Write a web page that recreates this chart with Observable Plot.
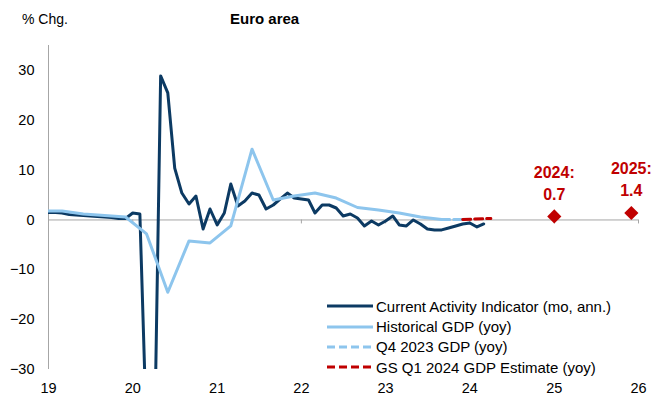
<!DOCTYPE html>
<html><head><meta charset="utf-8">
<script src="https://cdn.jsdelivr.net/npm/d3@7"></script>
<script src="https://cdn.jsdelivr.net/npm/@observablehq/plot@0.6"></script>
<style>
body{margin:0;background:#fff;font-family:"Liberation Sans",Arial,sans-serif;color:#000;}
#wrap{position:relative;width:660px;height:400px;overflow:hidden;}
#head{position:relative;height:40px;}
#ylab{position:absolute;left:22px;top:11px;font-size:14px;}
#title{position:absolute;left:230px;top:10px;font-size:15px;font-weight:bold;}
#legend{position:absolute;left:327px;top:296px;font-size:15px;}
.row{display:flex;align-items:center;height:20.4px;}
.row svg{margin-right:3px;}
</style></head><body>
<div id="wrap">
  <div id="head"><span id="ylab">% Chg.</span><span id="title">Euro area</span></div>
  <div id="chart"></div>
  <div id="legend"></div>
</div>
<script>
// Current Activity Indicator (monthly, annualized), Jan 2019 onward
const caiStart = "2019-01-01";
const caiValues = [
  1.5, 1.5, 1.4, 1.1, 1.0, 0.9, 0.8, 0.7, 0.6, 0.5, 0.3, 0.3,
  1.4, 1.2, -43, -55, 28.9, 25.5, 10.4, 5.4, 3.2, 4.8, -1.8, 2.2,
  -1.0, 1.4, 7.2, 2.8, 3.8, 5.4, 5.0, 2.2, 3.0, 4.2, 5.4, 4.4,
  4.2, 4.0, 1.4, 3.0, 3.0, 2.4, 0.8, 1.2, 0.4, -1.2, -0.2, -1.0,
  -0.2, 0.8, -1.0, -1.2, 0.0, -0.8, -1.8, -2.0, -2.0, -1.6, -1.2, -0.8,
  -0.6, -1.4, -0.8
];
// Historical GDP (yoy), quarterly (plotted at quarter-end month)
const gdpDates = ["2018-12-01","2019-03-01","2019-06-01","2019-09-01","2019-12-01",
  "2020-03-01","2020-06-01","2020-09-01","2020-12-01","2021-03-01","2021-06-01",
  "2021-09-01","2021-12-01","2022-03-01","2022-06-01","2022-09-01","2022-12-01",
  "2023-03-01","2023-06-01","2023-09-01"];
const gdpValues = [1.8, 1.8, 1.2, 0.9, 0.6, -2.8, -14.5, -4.2, -4.6, -1.2, 14.2,
  4.0, 4.8, 5.4, 4.4, 2.5, 2.0, 1.4, 0.6, 0.1];
// Q4 2023 GDP (yoy)
const q4Dates = ["2023-09-01","2023-12-01"];
const q4Values = [0.1, 0.1];
// GS Q1 2024 GDP Estimate (yoy)
const gsDates = ["2023-12-01","2024-04-01"];
const gsValues = [0.1, 0.3];
// Annual forecasts
const annualDates = ["2025-01-01","2025-12-01"];
const annualValues = [0.7, 1.4];
const annualLabels = ["2024:", "2025:"];
// Axes
const yTicks = [-30, -20, -10, 0, 10, 20, 30];
const xTickDates = ["2019-01-01","2020-01-01","2021-01-01","2022-01-01","2023-01-01","2024-01-01","2025-01-01","2026-01-01"];
const xTickLabels = ["19","20","21","22","23","24","25","26"];
const seriesNames = ["Current Activity Indicator (mo, ann.)","Historical GDP (yoy)","Q4 2023 GDP (yoy)","GS Q1 2024 GDP Estimate (yoy)"];

const NAVY = "#0c3a63", LIGHT = "#8dc5ed", RED = "#c00000", GRAY = "#a6a6a6";
const parse = s => new Date(s + (s.length === 10 ? "T00:00:00Z" : ""));
const t0 = parse(caiStart);
const cai = caiValues.map((v, i) => ({date: d3.utcMonth.offset(t0, i), value: v}));
const gdp = gdpDates.map((d, i) => ({date: parse(d), value: gdpValues[i]}));
const q4 = q4Dates.map((d, i) => ({date: parse(d), value: q4Values[i]}));
const gs = gsDates.map((d, i) => ({date: parse(d), value: gsValues[i]}));
const annual = annualDates.map((d, i) => ({date: parse(d), value: annualValues[i], label: annualLabels[i], vtext: annualValues[i].toFixed(1)}));
const xTicks = xTickDates.map(parse);

const chart = Plot.plot({
  width: 660, height: 360,
  marginTop: 5, marginBottom: 31, marginLeft: 48, marginRight: 22,
  style: {fontFamily: '"Liberation Sans", Arial, sans-serif', color: "#000", background: "#fff"},
  x: {type: "utc", domain: [xTicks[0], xTicks[xTicks.length - 1]], label: null},
  y: {domain: [-30, 35], label: null},
  marks: [
    Plot.ruleX([xTicks[0]], {stroke: GRAY, strokeWidth: 1}),
    Plot.ruleY([0], {stroke: GRAY, strokeWidth: 1}),
    Plot.ruleX(xTicks.slice(1), {y1: 0, y2: -0.8, stroke: GRAY, strokeWidth: 1}),
    Plot.axisY(yTicks, {tickSize: 0, tickPadding: 14, fontSize: 14.5, fill: "#000"}),
    Plot.axisX(xTicks, {tickSize: 0, tickPadding: 13, fontSize: 14.5, fill: "#000",
      tickFormat: d => xTickLabels[xTicks.findIndex(t => +t === +d)]}),
    Plot.line(cai, {x: "date", y: "value", stroke: NAVY, strokeWidth: 3, clip: true, strokeLinejoin: "round"}),
    Plot.line(gdp, {x: "date", y: "value", stroke: LIGHT, strokeWidth: 3, clip: true, strokeLinejoin: "round"}),
    Plot.line(q4, {x: "date", y: "value", stroke: LIGHT, strokeWidth: 3, strokeDasharray: "8,4"}),
    Plot.line(gs, {x: "date", y: "value", stroke: RED, strokeWidth: 3, strokeDasharray: "8,4"}),
    Plot.dot(annual, {x: "date", y: "value", symbol: "diamond2", r: 6.4, fill: RED, stroke: "none"}),
    Plot.text(annual, {x: "date", y: "value", text: "label", dy: -44, fill: RED, fontWeight: "bold", fontSize: 16}),
    Plot.text(annual, {x: "date", y: "value", text: "vtext", dy: -22, fill: RED, fontWeight: "bold", fontSize: 16})
  ]
});
document.getElementById("chart").appendChild(chart);

// Legend
const legendStyles = [
  {stroke: NAVY, dash: null},
  {stroke: LIGHT, dash: null},
  {stroke: LIGHT, dash: "8,4"},
  {stroke: RED, dash: "8,4"}
];
const legend = document.getElementById("legend");
seriesNames.forEach((name, i) => {
  const row = document.createElement("div");
  row.className = "row";
  const s = legendStyles[i];
  row.innerHTML = `<svg width="46" height="6"><line x1="0" x2="46" y1="3" y2="3" stroke="${s.stroke}" stroke-width="3"${s.dash ? ` stroke-dasharray="${s.dash}"` : ""}/></svg><span>${name}</span>`;
  legend.appendChild(row);
});
</script>
</body></html>
